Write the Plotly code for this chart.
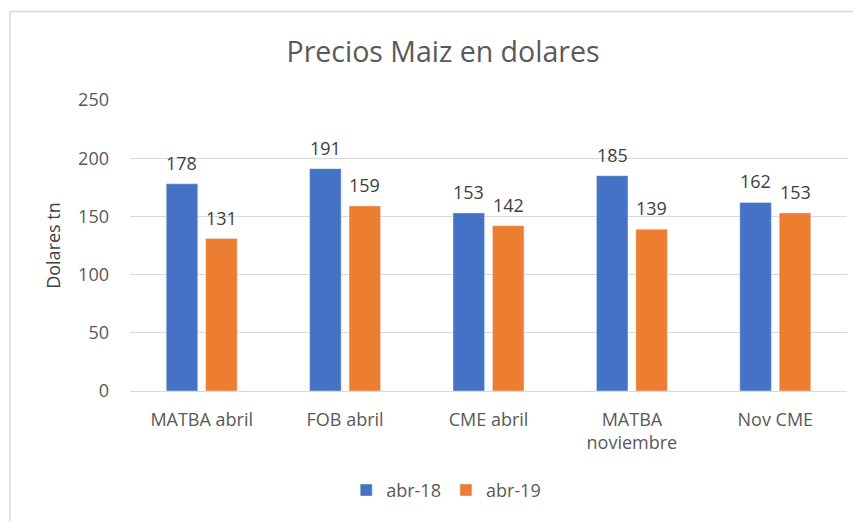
import plotly.graph_objects as go

categories = ["MATBA abril", "FOB abril", "CME abril", "MATBA<br>noviembre", "Nov CME"]
abr18 = [178, 191, 153, 185, 162]
abr19 = [131, 159, 142, 139, 153]
series_names = ["abr-18", "abr-19"]
y_ticks = [0, 50, 100, 150, 200, 250]

FONT = "Open Sans"
GRAY = "#595959"
DARK = "#404040"
COLORS = ["#4472C4", "#ED7D31"]

# figure is placed with the page's default 8px body margin
W, H = 853, 513
L, R, T, B = 122, 14, 92, 128
PW, PH = W - L - R, H - T - B

fig = go.Figure()
for name, vals, col in zip(series_names, [abr18, abr19], COLORS):
    fig.add_trace(go.Bar(x=categories, y=vals, name=name, marker_color=col))

# data labels (offset to sit over each bar of the group)
slot = PW / len(categories) * (1 - 0.45) / 2
annotations = []
for k, vals in enumerate([abr18, abr19]):
    shift = (k - 0.5) * slot
    for c, v in zip(categories, vals):
        annotations.append(dict(x=c, y=v, text=str(v), showarrow=False, xref="x", yref="y",
                                xshift=shift, yshift=21, yanchor="middle",
                                font=dict(size=18, color=DARK, family=FONT)))

fig.update_layout(
    width=W, height=H,
    margin=dict(l=L, r=R, t=T, b=B),
    paper_bgcolor="white", plot_bgcolor="white",
    font=dict(family=FONT, color=GRAY, size=16),
    title=dict(text="Precios Maiz en dolares", x=435 / W, xanchor="center", y=1 - 44 / H, yanchor="middle",
               font=dict(size=28.5, color=GRAY, family=FONT)),
    bargap=0.45, bargroupgap=0.2,
    showlegend=True,
    legend=dict(orientation="h", x=0.441, xanchor="center", y=(385 - 485) / PH, yanchor="middle",
                font=dict(size=18, color=GRAY), traceorder="normal", itemwidth=30),
    yaxis=dict(range=[0, 250], tickvals=y_ticks, showgrid=True, gridcolor="#d9d9d9", gridwidth=1,
               zeroline=False, showline=False, ticklabelstandoff=20,
               tickfont=dict(size=18, color=GRAY),
               title=dict(text="Dolares tn", font=dict(size=18, color=DARK), standoff=12)),
    xaxis=dict(showline=True, linecolor="#d9d9d9", linewidth=1, showgrid=False,
               tickfont=dict(size=18, color=GRAY), ticklabelstandoff=12),
    annotations=annotations,
    shapes=[dict(type="rect", xref="paper", yref="paper",
                 x0=(2 - L) / PW, x1=1.1, y0=-0.6, y1=1 + (T - 3) / PH,
                 line=dict(color="#d9d9d9", width=1.5), fillcolor="rgba(0,0,0,0)", layer="below")],
)

fig.write_html("out.html")
